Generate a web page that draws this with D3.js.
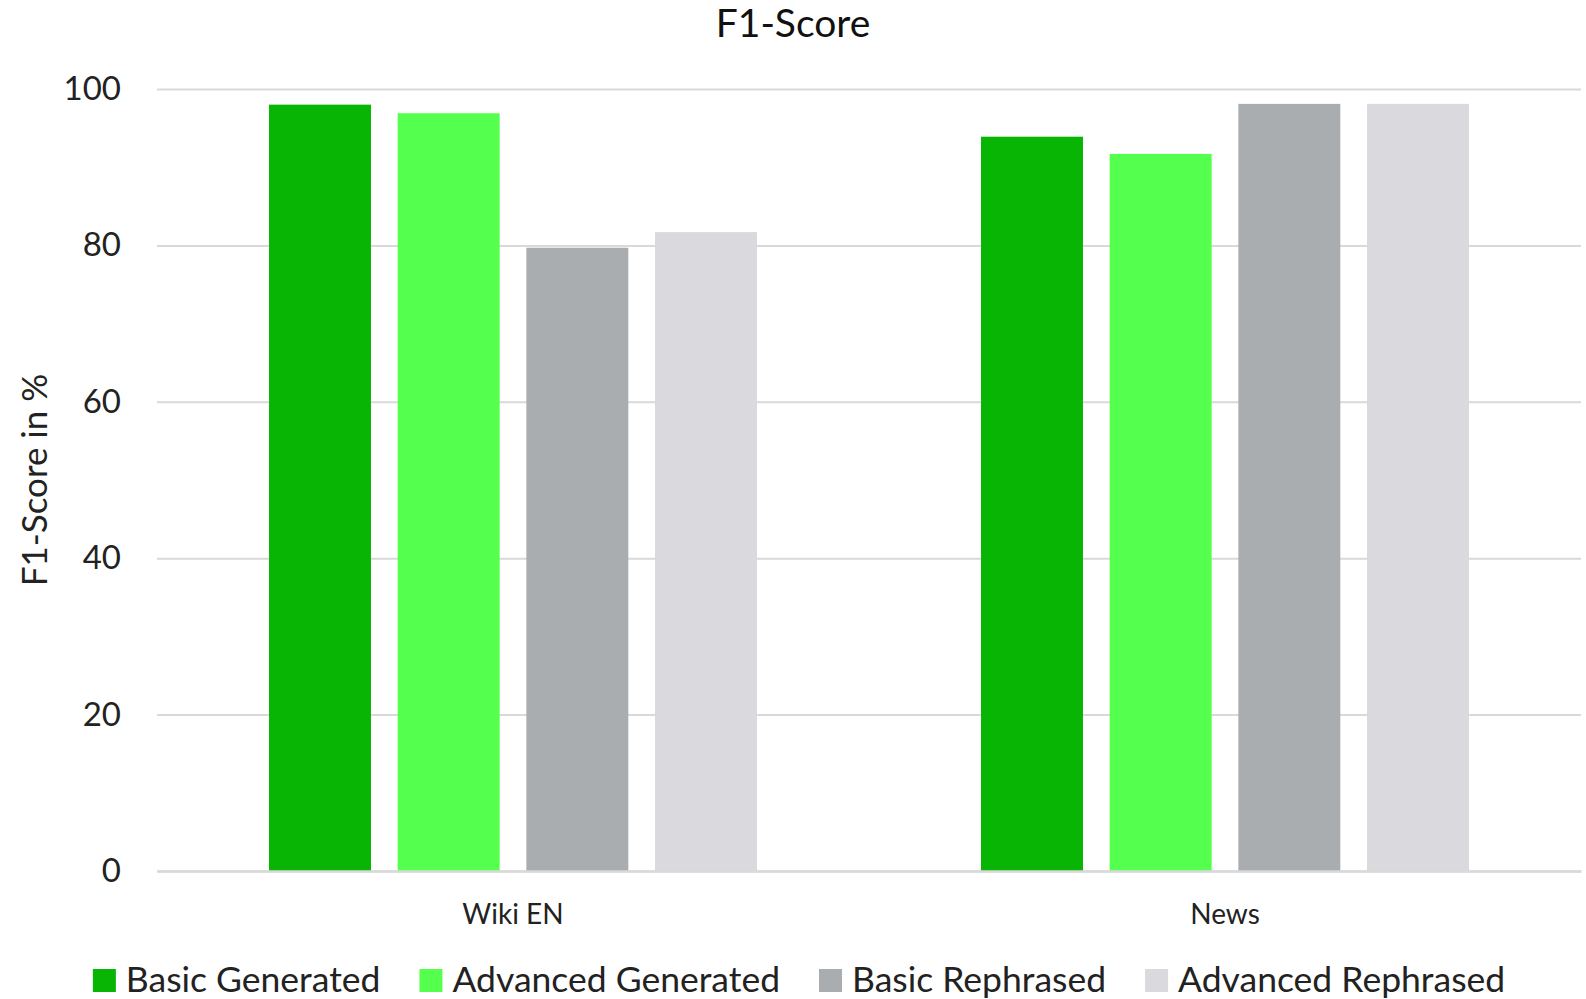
<!DOCTYPE html>
<html>
<head>
<meta charset="utf-8">
<script src="https://cdn.jsdelivr.net/npm/d3@7"></script>
<style>
  html, body { margin: 0; padding: 0; background: #ffffff; }
  svg { display: block; font-family: Lato, "Noto Sans", sans-serif; }
</style>
</head>
<body>
<svg id="chart" width="1586" height="999"></svg>
<script>
// F1-score per dataset and generation method
const categories = ["Wiki EN", "News"];
const seriesNames = ["Basic Generated", "Advanced Generated", "Basic Rephrased", "Advanced Rephrased"];
const seriesColors = ["#08b404", "#55ff4d", "#a9adb0", "#d9d9de"];
const basicGenerated = [98.0, 93.9];
const advancedGenerated = [96.9, 91.7];
const basicRephrased = [79.7, 98.1];
const advancedRephrased = [81.7, 98.1];
const yTicks = [0, 20, 40, 60, 80, 100];

const seriesValues = [basicGenerated, advancedGenerated, basicRephrased, advancedRephrased];
const rows = categories.map((c, i) => ({
  category: c,
  values: seriesNames.map((s, j) => ({ series: s, value: seriesValues[j][i], color: seriesColors[j] }))
}));

const svg = d3.select("#chart");
const plot = { left: 157, right: 1581, top: 89, bottom: 871 };
const textColor = "#222222";
const gridColor = "#d9d9d9";

const y = d3.scaleLinear().domain([0, 100]).range([plot.bottom, plot.top]);
const x0 = d3.scaleBand().domain(categories).range([plot.left, plot.right])
  .paddingInner(0.3146).paddingOuter(0.1573);
const x1 = d3.scaleBand().domain(seriesNames).range([0, x0.bandwidth()]).paddingInner(0.2075);

// Title
svg.append("text")
  .attr("x", 793).attr("y", 37)
  .attr("text-anchor", "middle")
  .attr("font-size", 39)
  .attr("fill", "#111")
  .text("F1-Score");

// Gridlines and y tick labels
const yAxis = d3.axisLeft(y).tickValues(yTicks).tickSize(-(plot.right - plot.left)).tickPadding(36);
const gy = svg.append("g").attr("transform", `translate(${plot.left},0)`).call(yAxis);
gy.select(".domain").remove();
gy.selectAll(".tick line").attr("stroke", gridColor).attr("stroke-width", 2);
gy.selectAll(".tick text")
  .attr("font-size", 33)
  .attr("font-family", "Lato, sans-serif")
  .attr("fill", textColor);

// Bars
const groups = svg.append("g").selectAll("g").data(rows).join("g")
  .attr("transform", d => `translate(${x0(d.category)},0)`);
groups.selectAll("rect").data(d => d.values).join("rect")
  .attr("x", d => x1(d.series))
  .attr("width", x1.bandwidth())
  .attr("y", d => y(d.value))
  .attr("height", d => y(0) - y(d.value))
  .attr("fill", d => d.color);

// Category axis
const xAxis = d3.axisBottom(x0).tickSize(0).tickPadding(33);
const gx = svg.append("g").attr("transform", `translate(0,${plot.bottom})`).call(xAxis);
gx.select(".domain").attr("stroke", gridColor).attr("stroke-width", 2.5);
gx.selectAll(".tick text")
  .attr("font-size", 28)
  .attr("font-family", "Lato, sans-serif")
  .attr("fill", textColor);

// Y axis title
svg.append("text")
  .attr("transform", `translate(47,${(plot.top + plot.bottom) / 2}) rotate(-90)`)
  .attr("text-anchor", "middle")
  .attr("font-size", 35)
  .attr("fill", textColor)
  .text("F1-Score in %");

// Legend, laid out from measured label widths and centred
const legend = svg.append("g");
const sw = 23, swGap = 10, itemGap = 39, legendBaseline = 992;
const items = legend.selectAll("g").data(seriesNames.map((s, i) => ({ name: s, color: seriesColors[i] })))
  .join("g");
items.append("rect")
  .attr("width", sw).attr("height", sw)
  .attr("y", legendBaseline - sw)
  .attr("fill", d => d.color);
items.append("text")
  .attr("x", sw + swGap)
  .attr("y", legendBaseline)
  .attr("font-size", 35.5)
  .attr("fill", textColor)
  .text(d => d.name);
const widths = [];
items.each(function () { widths.push(sw + swGap + this.querySelector("text").getComputedTextLength()); });
const total = d3.sum(widths) + itemGap * (widths.length - 1);
let cx = 799 - total / 2;
items.each(function (d, i) {
  d3.select(this).attr("transform", `translate(${cx},0)`);
  cx += widths[i] + itemGap;
});
</script>
</body>
</html>
